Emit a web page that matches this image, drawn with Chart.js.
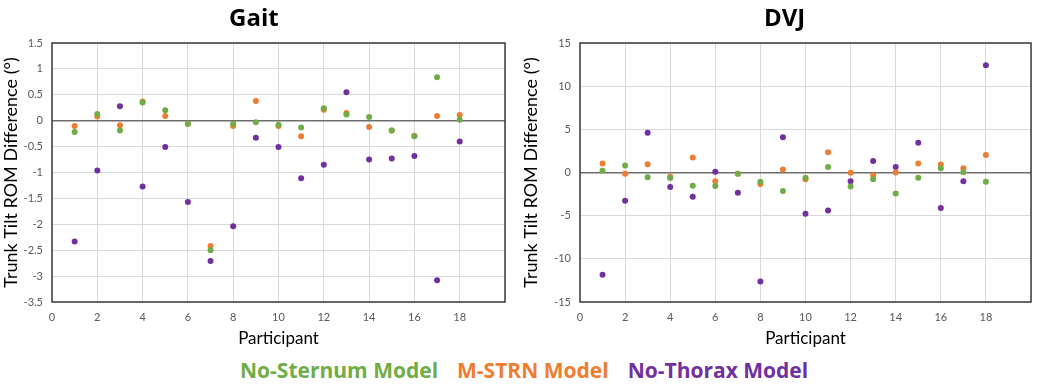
<!DOCTYPE html>
<html>
<head>
<meta charset="utf-8">
<script src="https://cdn.jsdelivr.net/npm/chart.js@4.4.1/dist/chart.umd.min.js"></script>
<style>
  html, body { margin: 0; padding: 0; background: #fff; }
  #wrap { position: relative; width: 1040px; height: 388px; overflow: hidden; }
  .box { position: absolute; top: 0; width: 520px; height: 355px; }
  .title { position: absolute; top: 0; font: bold 24px "Open Sans", sans-serif; color: #000; }
  #legend { position: absolute; top: 356px; left: 240px; white-space: nowrap;
            font: bold 21px "Open Sans", sans-serif; }
  #legend span { margin-right: 19px; }
</style>
</head>
<body>
<div id="wrap">
  <div class="box" style="left:0"><canvas id="gait"></canvas></div>
  <div class="box" style="left:520px"><canvas id="dvj"></canvas></div>
  <div class="title" style="left:229px">Gait</div>
  <div class="title" style="left:764px">DVJ</div>
  <div id="legend">
    <span style="color:#70AD47">No-Sternum Model</span><span style="color:#ED7D31">M-STRN Model</span><span style="color:#7030A0">No-Thorax Model</span>
  </div>
</div>
<script>
const participants = [1, 2, 3, 4, 5, 6, 7, 8, 9, 10, 11, 12, 13, 14, 15, 16, 17, 18];

const gaitNoSternum = [-0.22, 0.13, -0.19, 0.35, 0.20, -0.06, -2.50, -0.06, -0.03, -0.08, -0.13, 0.24, 0.12, 0.07, -0.19, -0.30, 0.84, 0.02];
const gaitMSTRN     = [-0.10, 0.08, -0.09, 0.37, 0.09, -0.06, -2.42, -0.10, 0.38, -0.10, -0.30, 0.21, 0.15, -0.12, -0.19, -0.29, 0.09, 0.11];
const gaitNoThorax  = [-2.33, -0.96, 0.28, -1.27, -0.51, -1.57, -2.71, -2.04, -0.33, -0.51, -1.11, -0.85, 0.55, -0.75, -0.73, -0.68, -3.08, -0.40];

const dvjNoSternum = [0.19, 0.81, -0.54, -0.65, -1.53, -1.57, -0.15, -1.07, -2.15, -0.61, 0.65, -1.61, -0.77, -2.42, -0.61, 0.50, 0.04, -1.07];
const dvjMSTRN     = [1.04, -0.15, 0.96, -0.50, 1.73, -1.00, -0.15, -1.34, 0.35, -0.77, 2.34, -0.04, -0.31, 0.00, 1.04, 0.92, 0.50, 2.03];
const dvjNoThorax  = [-11.85, -3.26, 4.60, -1.69, -2.80, 0.08, -2.34, -12.62, 4.07, -4.79, -4.41, -1.00, 1.34, 0.65, 3.45, -4.10, -1.00, 12.43];

const seriesNames = ['No-Sternum Model', 'M-STRN Model', 'No-Thorax Model'];
const seriesColors = ['#70AD47', '#ED7D31', '#7030A0'];

const xMin = 0, xMax = 20, xStep = 2;
const gaitY = { min: -3.5, max: 1.5, step: 0.5 };
const dvjY = { min: -15, max: 15, step: 5 };

// draws the dark box around the plot area
const frame = {
  id: 'frame',
  afterDraw(chart) {
    const a = chart.chartArea, ctx = chart.ctx;
    ctx.save();
    ctx.strokeStyle = '#3b3b3b';
    ctx.lineWidth = 1.5;
    ctx.strokeRect(a.left, a.top, a.right - a.left, a.bottom - a.top);
    ctx.restore();
  }
};

const toPoints = ys => participants.map((p, i) => ({ x: p, y: ys[i] }));

function makeChart(id, lists, yRange, yWidth, padRight) {
  const datasets = lists.map((ys, i) => ({
    label: seriesNames[i],
    data: toPoints(ys),
    backgroundColor: seriesColors[i],
    borderColor: seriesColors[i],
    pointRadius: 3,
    pointBorderWidth: 0,
    pointHoverRadius: 3
  }));
  return new Chart(document.getElementById(id), {
    type: 'scatter',
    data: { datasets },
    plugins: [frame],
    options: {
      responsive: true,
      maintainAspectRatio: false,
      animation: false,
      layout: { padding: { left: 0, right: padRight, top: 43, bottom: 0 } },
      plugins: { legend: { display: false }, tooltip: { enabled: false } },
      scales: {
        x: {
          type: 'linear', min: xMin, max: xMax,
          afterFit: s => { s.height = 53; },
          border: { display: false },
          grid: { color: '#d9d9d9', drawTicks: false },
          ticks: {
            stepSize: xStep, padding: 9, color: '#595959',
            font: { family: 'Lato', size: 11 },
            callback: v => (v === xMax ? '' : v)
          },
          title: { display: true, text: 'Participant', color: '#000',
                   font: { family: 'Lato', size: 17 }, padding: { top: 4, bottom: 6 } }
        },
        y: {
          min: yRange.min, max: yRange.max,
          afterFit: s => { s.width = yWidth; },
          border: { display: false },
          grid: {
            drawTicks: false,
            color: c => (c.tick && c.tick.value === 0 ? '#6e6e6e' : '#d9d9d9'),
            lineWidth: c => (c.tick && c.tick.value === 0 ? 1.5 : 1)
          },
          ticks: {
            stepSize: yRange.step, padding: 9, color: '#595959',
            font: { family: 'Lato', size: 11 },
            callback: v => String(+v.toFixed(1))
          },
          title: { display: true, text: 'Trunk Tilt ROM Difference (°)', color: '#000',
                   font: { family: 'Lato', size: 18 }, padding: { top: 0, bottom: 0 } }
        }
      }
    }
  });
}

makeChart('gait', [gaitNoSternum, gaitMSTRN, gaitNoThorax], gaitY, 52, 15);
makeChart('dvj', [dvjNoSternum, dvjMSTRN, dvjNoThorax], dvjY, 60, 3);
</script>
</body>
</html>
